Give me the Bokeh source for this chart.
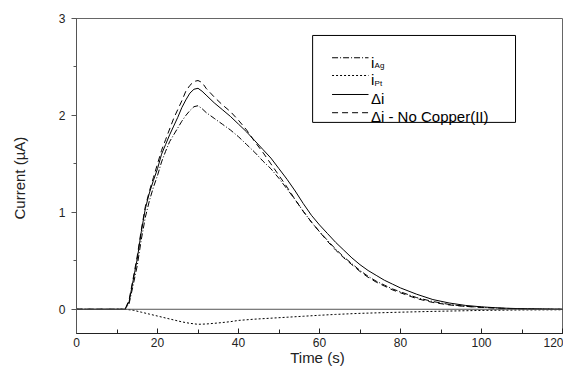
from bokeh.plotting import figure
from bokeh.models import Span, BoxAnnotation, Label, FixedTicker
from bokeh.embed import file_html
from bokeh.resources import INLINE

# ---- data ----
time_s = [0, 3, 6, 9, 12, 13, 14, 15, 16, 17, 18, 19, 20, 21, 22, 23, 24, 25, 26, 27, 28, 29,
          30, 31, 32, 34, 36, 38, 40, 42, 44, 46, 48, 50, 52, 54, 56, 58, 60, 62, 64, 66, 68,
          70, 72, 74, 76, 78, 80, 84, 88, 92, 96, 100, 105, 110, 115, 120]
delta_i = [0, 0, 0, 0, 0, 0.08, 0.3, 0.52, 0.8, 1.04, 1.2, 1.33, 1.45, 1.6, 1.7, 1.8, 1.89, 1.98,
           2.08, 2.16, 2.23, 2.27, 2.28, 2.25, 2.21, 2.13, 2.06, 1.99, 1.91, 1.83, 1.74, 1.65,
           1.56, 1.45, 1.34, 1.22, 1.09, 0.97, 0.87, 0.78, 0.69, 0.61, 0.53, 0.46, 0.4, 0.35,
           0.3, 0.26, 0.22, 0.155, 0.1, 0.065, 0.04, 0.025, 0.012, 0.006, 0.003, 0]
delta_i_no_cu = [0, 0, 0, 0, 0, 0.1, 0.32, 0.55, 0.82, 1.06, 1.22, 1.36, 1.5, 1.64, 1.75, 1.86,
                 1.97, 2.06, 2.15, 2.25, 2.31, 2.35, 2.36, 2.34, 2.28, 2.19, 2.11, 2.04, 1.95,
                 1.85, 1.73, 1.62, 1.5, 1.38, 1.26, 1.13, 1.01, 0.9, 0.8, 0.7, 0.61, 0.53, 0.46,
                 0.39, 0.33, 0.28, 0.24, 0.2, 0.17, 0.11, 0.07, 0.045, 0.03, 0.02, 0.01, 0.005,
                 0.002, 0]
i_ag = [0, 0, 0, 0, 0, 0.06, 0.25, 0.45, 0.72, 0.95, 1.12, 1.26, 1.38, 1.52, 1.63, 1.73, 1.8,
        1.87, 1.94, 2.0, 2.05, 2.09, 2.1, 2.07, 2.03, 1.97, 1.91, 1.85, 1.78, 1.7, 1.62, 1.53,
        1.45, 1.35, 1.24, 1.13, 1.01, 0.9, 0.8, 0.71, 0.62, 0.54, 0.47, 0.4, 0.34, 0.29, 0.25,
        0.21, 0.18, 0.12, 0.08, 0.05, 0.03, 0.02, 0.01, 0.005, 0.002, 0]

time_pt = [0, 4, 8, 12, 14, 16, 18, 20, 22, 24, 26, 28, 30, 32, 34, 36, 38, 40, 44, 48, 52, 56,
           60, 64, 70, 80, 90, 100, 110, 120]
i_pt = [0, 0, 0, 0, -0.01, -0.03, -0.05, -0.07, -0.09, -0.11, -0.13, -0.145, -0.155, -0.152,
        -0.145, -0.137, -0.128, -0.115, -0.102, -0.092, -0.082, -0.072, -0.062, -0.053, -0.042,
        -0.03, -0.02, -0.012, -0.007, -0.005]

x_ticks = [0, 20, 40, 60, 80, 100, 120]
y_ticks = [0, 1, 2, 3]

FONT = "Liberation Sans"

p = figure(width=563, height=368, x_range=(0, 120), y_range=(-0.25, 3),
           output_backend="svg", toolbar_location=None,
           min_border_left=76, min_border_right=1, min_border_top=18, min_border_bottom=35)
p.grid.visible = False
p.background_fill_color = "white"
p.border_fill_color = "white"
p.outline_line_color = "#666666"
p.outline_line_width = 1

# axes
xa = p.xaxis[0]
xa.ticker = FixedTicker(ticks=x_ticks, minor_ticks=list(range(0, 121, 10)))
xa.axis_label = "Time  (s)"
xa.axis_line_color = "#222222"
xa.major_tick_in = 5
xa.major_tick_out = 0
xa.minor_tick_in = 4
xa.minor_tick_out = 0
xa.major_tick_line_color = "#222222"
xa.minor_tick_line_color = "#222222"
xa.major_label_standoff = 4
xa.axis_label_standoff = -1

ya = p.yaxis[0]
ya.ticker = FixedTicker(ticks=y_ticks, minor_ticks=[0, 0.5, 1, 1.5, 2, 2.5, 3])
ya.axis_label = "Current  (\u00b5A)"
ya.axis_line_color = "#555555"
ya.major_tick_in = 0
ya.major_tick_out = 5
ya.minor_tick_in = 0
ya.minor_tick_out = 3
ya.major_tick_line_color = "#555555"
ya.minor_tick_line_color = "#555555"
ya.major_label_standoff = 6
ya.axis_label_standoff = 28

for ax in (xa, ya):
    ax.major_label_text_font = FONT
    ax.major_label_text_font_size = "12px"
    ax.major_label_text_color = "#222222"
    ax.axis_label_text_font = FONT
    ax.axis_label_text_font_size = "15px"
    ax.axis_label_text_font_style = "normal"
    ax.axis_label_text_color = "#222222"

# zero line
p.add_layout(Span(location=0, dimension="width", line_color="#555555", line_width=1))

styles = {
    "ag": "6 2 1 2",
    "pt": "2 2",
    "di": "solid",
    "nocu": "6 4",
}

p.line(time_pt, i_pt, line_color="black", line_width=1, line_dash=styles["pt"])
p.line(time_s, i_ag, line_color="black", line_width=1, line_dash=styles["ag"])
p.line(time_s, delta_i_no_cu, line_color="black", line_width=1, line_dash=styles["nocu"])
p.line(time_s, delta_i, line_color="black", line_width=1, line_dash=styles["di"])

# ---- hand-built legend (needs subscripts) ----
p.add_layout(BoxAnnotation(left=58.3, right=108.4, top=2.825, bottom=1.928,
                           fill_color="white", fill_alpha=1.0,
                           line_color="black", line_alpha=1.0, line_width=1,
                           level="annotation"))
leg_rows = [
    ("ag", 2.595, "i", 2.543, "Ag", 2.515),
    ("pt", 2.412, "i", 2.366, "Pt", 2.328),
    ("di", 2.216, "\u0394i", 2.175, None, None),
    ("nocu", 2.028, "\u0394i - No Copper(II)", 1.987, None, None),
]
for key, ys, txt, yt, sub, ysub in leg_rows:
    p.segment(x0=[63.1], y0=[ys], x1=[72.1], y1=[ys], line_color="black",
              line_width=1, line_dash=styles[key], level="overlay")
    p.add_layout(Label(x=72.7, y=yt, text=txt, text_font=FONT, text_font_size="15px",
                       text_color="black", text_baseline="alphabetic", text_align="left",
                       level="overlay"))
    if sub:
        p.add_layout(Label(x=73.6, y=ysub, text=sub, text_font=FONT, text_font_size="8px",
                           text_color="black", text_baseline="alphabetic", text_align="left",
                           level="overlay"))

open("out.html", "w").write(file_html(p, INLINE))
